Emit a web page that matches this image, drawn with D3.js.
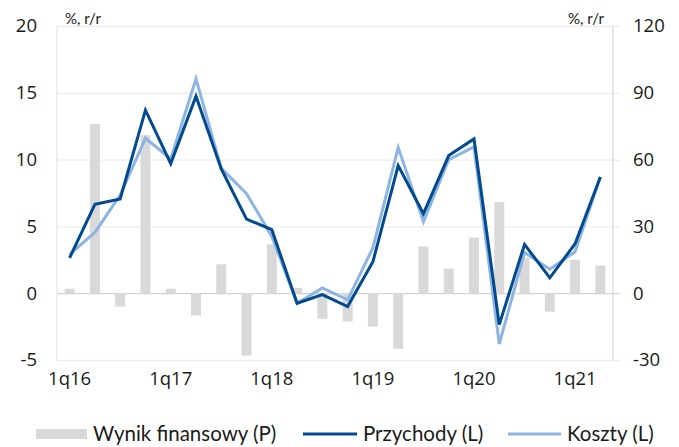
<!DOCTYPE html>
<html>
<head>
<meta charset="utf-8">
<script src="https://cdn.jsdelivr.net/npm/d3@7"></script>
<style>
  html, body { margin: 0; padding: 0; background: #fff; }
  svg { display: block; }
</style>
</head>
<body>
<svg id="chart" width="679" height="447"></svg>
<script>
// Quarterly categories
const quarters = [
  "1q16","2q16","3q16","4q16",
  "1q17","2q17","3q17","4q17",
  "1q18","2q18","3q18","4q18",
  "1q19","2q19","3q19","4q19",
  "1q20","2q20","3q20","4q20",
  "1q21","2q21"
];
const tickQuarters = ["1q16","1q17","1q18","1q19","1q20","1q21"];

// Wynik finansowy, % r/r (right axis)
const wynik = [2, 76, -6, 71, 2, -10, 13, -28, 22, 2.4, -11.5, -12.7,
               -15, -25, 21, 11, 25, 41, 16, -8.3, 15, 12.4];
// Przychody, % r/r (left axis)
const przychody = [2.65, 6.65, 7.05, 13.7, 9.7, 14.75, 9.3, 5.55, 4.75, -0.75, -0.1, -1.0,
                   2.35, 9.55, 5.95, 10.3, 11.55, -2.35, 3.65, 1.15, 3.7, 8.7];
// Koszty, % r/r (left axis)
const koszty = [2.9, 4.55, 7.35, 11.6, 10.05, 16.05, 9.35, 7.45, 4.25, -0.75, 0.4, -0.5,
                3.4, 10.9, 5.35, 10.0, 10.95, -3.8, 3.05, 1.8, 3.1, 8.7];

const leftTicks = [-5, 0, 5, 10, 15, 20];
const rightTicks = [-30, 0, 30, 60, 90, 120];

const svg = d3.select("#chart");
const plot = { left: 57, right: 613, top: 26, bottom: 360 };

const x = d3.scaleBand().domain(quarters).range([plot.left, plot.right]).padding(0);
const yL = d3.scaleLinear().domain([-5, 20]).range([plot.bottom, plot.top]);
const yR = d3.scaleLinear().domain([-30, 120]).range([plot.bottom, plot.top]);

const tickFont = "'Open Sans', 'DejaVu Sans', sans-serif";
const labelFont = "'Lato', sans-serif";
const plainNumber = d => String(d);   // keeps an ASCII hyphen for negatives

// Horizontal gridlines (extend past the right axis as outer ticks)
svg.append("g")
  .attr("transform", `translate(${plot.right + 7},0)`)
  .call(d3.axisLeft(yL).tickValues(leftTicks).tickSize(plot.right + 7 - plot.left).tickFormat(""))
  .call(g => g.select(".domain").remove())
  .call(g => g.selectAll(".tick line")
    .attr("stroke", d => d === 0 ? "#d4d4d4" : "#eeeeee")
    .attr("stroke-width", 1.3));

// Left vertical axis line
svg.append("line")
  .attr("x1", plot.left).attr("x2", plot.left)
  .attr("y1", plot.top).attr("y2", plot.bottom)
  .attr("stroke", "#e6e6e6").attr("stroke-width", 1.3);

// Right vertical axis line
svg.append("line")
  .attr("x1", plot.right).attr("x2", plot.right)
  .attr("y1", plot.top).attr("y2", plot.bottom)
  .attr("stroke", "#d9d9d9").attr("stroke-width", 1.3);

// Bars: Wynik finansowy on the right scale
const barW = 10;
svg.append("g").selectAll("rect")
  .data(quarters.map((q, i) => ({ q, v: wynik[i] })))
  .join("rect")
  .attr("x", d => x(d.q) + x.bandwidth() / 2 - barW / 2)
  .attr("width", barW)
  .attr("y", d => Math.min(yR(d.v), yR(0)))
  .attr("height", d => Math.abs(yR(d.v) - yR(0)))
  .attr("fill", "#d9d9d9");

// Lines on the left scale
const line = d3.line()
  .x((d, i) => x(quarters[i]) + x.bandwidth() / 2)
  .y(d => yL(d));

svg.append("path").datum(koszty)
  .attr("d", line).attr("fill", "none")
  .attr("stroke", "#8db4e2").attr("stroke-width", 3)
  .attr("stroke-linejoin", "miter");

svg.append("path").datum(przychody)
  .attr("d", line).attr("fill", "none")
  .attr("stroke", "#004a8f").attr("stroke-width", 3)
  .attr("stroke-linejoin", "miter");

// Left axis labels
svg.append("g")
  .attr("transform", `translate(${plot.left},0)`)
  .call(d3.axisLeft(yL).tickValues(leftTicks).tickSize(0).tickPadding(20).tickFormat(plainNumber))
  .call(g => g.select(".domain").remove())
  .call(g => g.selectAll("text")
    .attr("font-family", tickFont).attr("font-size", 18.5).attr("fill", "#1a1a1a"));

// Right axis labels
svg.append("g")
  .attr("transform", `translate(${plot.right},0)`)
  .call(d3.axisRight(yR).tickValues(rightTicks).tickSize(0).tickPadding(20).tickFormat(plainNumber))
  .call(g => g.select(".domain").remove())
  .call(g => g.selectAll("text")
    .attr("font-family", tickFont).attr("font-size", 18.5).attr("fill", "#1a1a1a"));

// Bottom axis labels
svg.append("g")
  .attr("transform", `translate(0,${plot.bottom})`)
  .call(d3.axisBottom(x).tickValues(tickQuarters).tickSize(0).tickPadding(12))
  .call(g => g.select(".domain").remove())
  .call(g => g.selectAll("text")
    .attr("font-family", tickFont).attr("font-size", 18.5).attr("fill", "#1a1a1a"));

// Unit labels
svg.append("text").attr("x", 65).attr("y", 24)
  .attr("font-family", labelFont).attr("font-size", 15).attr("fill", "#1a1a1a")
  .text("%, r/r");
svg.append("text").attr("x", 604).attr("y", 24).attr("text-anchor", "end")
  .attr("font-family", labelFont).attr("font-size", 15).attr("fill", "#1a1a1a")
  .text("%, r/r");

// Legend
const legendY = 434;
const legend = svg.append("g").attr("font-family", labelFont).attr("font-size", 20.5).attr("fill", "#1a1a1a");
legend.append("rect").attr("x", 36).attr("y", legendY - 5).attr("width", 51).attr("height", 10).attr("fill", "#d9d9d9");
legend.append("text").attr("x", 93).attr("y", legendY + 7).text("Wynik finansowy (P)");
legend.append("line").attr("x1", 303).attr("x2", 357).attr("y1", legendY).attr("y2", legendY)
  .attr("stroke", "#004a8f").attr("stroke-width", 3);
legend.append("text").attr("x", 363).attr("y", legendY + 7).text("Przychody (L)");
legend.append("line").attr("x1", 508).attr("x2", 561).attr("y1", legendY).attr("y2", legendY)
  .attr("stroke", "#8db4e2").attr("stroke-width", 3);
legend.append("text").attr("x", 567).attr("y", legendY + 7).text("Koszty (L)");
</script>
</body>
</html>
